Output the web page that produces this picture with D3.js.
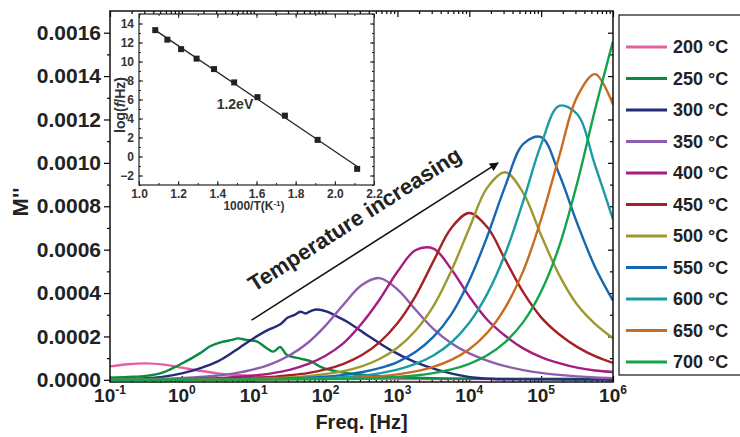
<!DOCTYPE html>
<html>
<head>
<meta charset="utf-8">
<script src="https://cdn.jsdelivr.net/npm/d3@7"></script>
<style>
  body { margin: 0; background: #fff; }
  svg { display: block; font-family: "Liberation Sans", Arial, sans-serif; font-weight: bold; }
</style>
</head>
<body>
<svg id="chart" width="740" height="437"></svg>
<script>
// log10 of frequency (Hz) shared by the smooth curves
const freqExp = [-1, -0.75, -0.5, -0.25, 0, 0.25, 0.5, 0.75, 1, 1.25, 1.5, 1.75, 2, 2.25, 2.5, 2.75,
  3, 3.25, 3.5, 3.75, 4, 4.25, 4.5, 4.75, 5, 5.25, 5.5, 5.75, 6];
// the two low temperature curves are noisy, so they are read on their own grids
const freqExp250 = [-1, -0.75, -0.5, -0.25, 0, 0.25, 0.4, 0.55, 0.7, 0.78, 0.9, 1.04, 1.18, 1.27, 1.37, 1.46,
  1.65, 1.8, 1.93, 2.17, 2.5, 2.75, 3, 3.5, 4, 5, 6];
const freqExp300 = [-1, -0.75, -0.5, -0.25, 0, 0.25, 0.5, 0.75, 1.0, 1.2, 1.37, 1.47, 1.56, 1.65, 1.72, 1.8,
  1.88, 2.02, 2.16, 2.3, 2.58, 2.9, 3.23, 3.56, 3.97, 4.34, 5, 6];

const temps = [200, 250, 300, 350, 400, 450, 500, 550, 600, 650, 700];
const colors = ["#e4609e", "#0b8a43", "#262b78", "#8e5db2", "#a51c82", "#a52126", "#9b9a30",
  "#1666b1", "#1b9ba2", "#c96b20", "#14a24c"];

// M'' values
const m200 = [6.2e-5, 7.2e-5, 7.6e-5, 7.0e-5, 5.6e-5, 4.2e-5, 3.0e-5, 2.2e-5, 1.7e-5, 1.2e-5, 9e-6, 7e-6, 6e-6, 5e-6, 5e-6,
  5e-6, 4e-6, 4e-6, 4e-6, 4e-6, 4e-6, 4e-6, 4e-6, 4e-6, 4e-6, 4e-6, 4e-6, 4e-6, 4e-6];
const m250 = [1.0e-5, 1.3e-5, 1.8e-5, 3.6e-5, 7.5e-5, 1.22e-4, 1.56e-4, 1.74e-4, 1.84e-4, 1.91e-4, 1.84e-4, 1.77e-4,
  1.46e-4, 1.30e-4, 1.51e-4, 1.15e-4, 9.8e-5, 8.5e-5, 6.0e-5, 3.8e-5, 2.4e-5, 1.7e-5, 1.2e-5, 7e-6, 5e-6, 4e-6, 3e-6];
const m300 = [1e-6, 2e-6, 7e-6, 1.5e-5, 3.0e-5, 5.3e-5, 8.5e-5, 1.36e-4, 1.92e-4, 2.30e-4, 2.56e-4, 2.86e-4, 2.98e-4,
  3.14e-4, 3.06e-4, 3.18e-4, 3.24e-4, 3.14e-4, 2.92e-4, 2.68e-4, 2.06e-4, 1.38e-4, 8.4e-5, 4.6e-5, 1.5e-5, 4e-6,
  2e-6, 1e-6];
const m350 = [2e-6, 2.5e-6, 4e-6, 5e-6, 8.5e-6, 1.3e-5, 2.0e-5, 3.1e-5, 4.8e-5, 7.4e-5, 1.13e-4, 1.70e-4, 2.50e-4,
  3.47e-4, 4.36e-4, 4.69e-4, 4.17e-4, 3.24e-4, 2.35e-4, 1.69e-4, 1.22e-4, 8.9e-5, 6.3e-5, 4.5e-5, 3.2e-5, 2.3e-5,
  1.6e-5, 1.1e-5, 8e-6];
const m400 = [1e-6, 1e-6, 1.5e-6, 2.5e-6, 3.7e-6, 5.5e-6, 8e-6, 1.3e-5, 2.0e-5, 3.0e-5, 4.6e-5, 7.2e-5, 1.11e-4,
  1.69e-4, 2.58e-4, 3.69e-4, 4.98e-4, 5.97e-4, 6.05e-4, 5.10e-4, 3.84e-4, 2.77e-4, 2.03e-4, 1.45e-4, 1.05e-4,
  7.7e-5, 5.6e-5, 4.3e-5, 3.6e-5];
const m450 = [5e-7, 7e-7, 1e-6, 1.3e-6, 1.5e-6, 2.5e-6, 3.8e-6, 5.8e-6, 8.5e-6, 1.3e-5, 2.1e-5, 3.1e-5, 4.8e-5,
  7.4e-5, 1.13e-4, 1.73e-4, 2.61e-4, 3.85e-4, 5.46e-4, 7.00e-4, 7.69e-4, 7.04e-4, 5.54e-4, 4.04e-4, 2.88e-4,
  2.10e-4, 1.52e-4, 1.09e-4, 7.8e-5];
const m500 = [5e-7, 7e-7, 1e-6, 1.2e-6, 1.5e-6, 2e-6, 2.8e-6, 3e-6, 5e-6, 7e-6, 1.1e-5, 1.7e-5, 2.7e-5, 4.0e-5,
  6.2e-5, 9.6e-5, 1.48e-4, 2.26e-4, 3.40e-4, 5.03e-4, 6.99e-4, 8.86e-4, 9.57e-4, 8.62e-4, 6.66e-4, 4.84e-4,
  3.47e-4, 2.58e-4, 1.92e-4];
const m550 = [5e-7, 6e-7, 8e-7, 1e-6, 1.2e-6, 1.5e-6, 2e-6, 2.5e-6, 3e-6, 4.5e-6, 6.5e-6, 1.0e-5, 1.5e-5, 2.3e-5,
  3.5e-5, 5.4e-5, 8.2e-5, 1.28e-4, 1.98e-4, 3.02e-4, 4.58e-4, 6.61e-4, 8.93e-4, 1.087e-3, 1.119e-3, 9.49e-4,
  7.23e-4, 5.20e-4, 3.65e-4];
const m600 = [5e-7, 6e-7, 7e-7, 8e-7, 1e-6, 1.2e-6, 1.5e-6, 2e-6, 2.5e-6, 3e-6, 4e-6, 6e-6, 8e-6, 1.2e-5, 1.9e-5,
  3.0e-5, 4.7e-5, 7.3e-5, 1.12e-4, 1.72e-4, 2.63e-4, 3.96e-4, 5.81e-4, 8.23e-4, 1.085e-3, 1.263e-3, 1.225e-3,
  9.89e-4, 7.40e-4];
const m650 = [5e-7, 5e-7, 6e-7, 7e-7, 8e-7, 1e-6, 1.2e-6, 1.5e-6, 2e-6, 2.5e-6, 3e-6, 4e-6, 6e-6, 7e-6, 1.1e-5,
  1.6e-5, 2.5e-5, 3.9e-5, 6.0e-5, 9.2e-5, 1.41e-4, 2.17e-4, 3.33e-4, 5.01e-4, 7.40e-4, 1.029e-3, 1.304e-3,
  1.409e-3, 1.269e-3];
const m700 = [5e-7, 5e-7, 5e-7, 6e-7, 7e-7, 8e-7, 1e-6, 1.2e-6, 1.5e-6, 2e-6, 2.5e-6, 3e-6, 3.5e-6, 4e-6, 5e-6,
  8e-6, 1.3e-5, 2.0e-5, 3.1e-5, 4.8e-5, 7.4e-5, 1.13e-4, 1.74e-4, 2.66e-4, 4.07e-4, 6.14e-4, 9.05e-4, 1.245e-3,
  1.560e-3];

const seriesExp = [freqExp, freqExp250, freqExp300, freqExp, freqExp, freqExp, freqExp, freqExp, freqExp, freqExp, freqExp];
const seriesValues = [m200, m250, m300, m350, m400, m450, m500, m550, m600, m650, m700];

const xTickExp = [-1, 0, 1, 2, 3, 4, 5, 6];
const yTicks = [0, 0.0002, 0.0004, 0.0006, 0.0008, 0.0010, 0.0012, 0.0014, 0.0016];

// inset: Arrhenius plot of the peak frequency
const insetInvT = [1.083, 1.145, 1.215, 1.294, 1.383, 1.486, 1.605, 1.745, 1.912, 2.114];
const insetLnF = [13.3, 12.3, 11.3, 10.3, 9.2, 7.8, 6.25, 4.3, 1.75, -1.3];
const insetXTicks = [1.0, 1.2, 1.4, 1.6, 1.8, 2.0, 2.2];
const insetYTicks = [-2, 0, 2, 4, 6, 8, 10, 12, 14];

const svg = d3.select("#chart");

const x = d3.scaleLog().domain([0.1, 1e6]).range([110, 613]);
const y = d3.scaleLinear().domain([-0.00001, 0.0017]).range([382, 11]);
const [x0, x1] = x.range();
const [y0, y1] = y.range();

const minorLog = [];
for (let e = -1; e < 6; e++) for (let k = 2; k <= 9; k++) minorLog.push(k * Math.pow(10, e));
const majorLog = xTickExp.map(e => Math.pow(10, e));
const minorY = d3.range(1, 17, 2).map(i => i * 0.0001);

function styleAxis(g) {
  g.select(".domain").remove();
  g.selectAll(".tick line").attr("stroke", "#000").attr("stroke-width", 1.2);
}

// left axis, outward ticks with labels
svg.append("g")
  .attr("transform", `translate(${x0},0)`)
  .call(d3.axisLeft(y).tickValues(yTicks).tickFormat(d3.format(".4f")).tickSize(6).tickPadding(3))
  .call(styleAxis)
  .selectAll("text")
  .style("font-size", "21px")
  .style("font-family", "Liberation Sans, Arial, sans-serif")
  .style("font-weight", "bold")
  .attr("fill", "#222");
svg.append("g")
  .attr("transform", `translate(${x0},0)`)
  .call(d3.axisLeft(y).tickValues(minorY).tickFormat("").tickSize(3))
  .call(styleAxis);

// right mirror ticks (inward)
svg.append("g")
  .attr("transform", `translate(${x1},0)`)
  .call(d3.axisLeft(y).tickValues(yTicks).tickFormat("").tickSize(5))
  .call(styleAxis);
svg.append("g")
  .attr("transform", `translate(${x1},0)`)
  .call(d3.axisLeft(y).tickValues(minorY).tickFormat("").tickSize(3))
  .call(styleAxis);

// bottom and top ticks (inward)
svg.append("g").attr("transform", `translate(0,${y0})`)
  .call(d3.axisTop(x).tickValues(majorLog).tickFormat("").tickSize(6)).call(styleAxis);
svg.append("g").attr("transform", `translate(0,${y0})`)
  .call(d3.axisTop(x).tickValues(minorLog).tickFormat("").tickSize(3)).call(styleAxis);
svg.append("g").attr("transform", `translate(0,${y1})`)
  .call(d3.axisBottom(x).tickValues(majorLog).tickFormat("").tickSize(6)).call(styleAxis);
svg.append("g").attr("transform", `translate(0,${y1})`)
  .call(d3.axisBottom(x).tickValues(minorLog).tickFormat("").tickSize(3)).call(styleAxis);

// x tick labels 10^n
const xLab = svg.append("g").selectAll("text")
  .data(xTickExp)
  .enter()
  .append("text")
  .attr("x", d => x(Math.pow(10, d)))
  .attr("y", 402)
  .attr("text-anchor", "middle")
  .attr("fill", "#222")
  .style("font-size", "19px");
xLab.append("tspan").text("10");
xLab.append("tspan").attr("dy", -8).style("font-size", "12px").text(d => d);

// axis titles
svg.append("text")
  .attr("x", (x0 + x1) / 2)
  .attr("y", 429)
  .attr("text-anchor", "middle")
  .attr("fill", "#222")
  .style("font-size", "20px")
  .text("Freq. [Hz]");

svg.append("text")
  .attr("transform", "translate(28,202) rotate(-90)")
  .attr("text-anchor", "middle")
  .attr("fill", "#222")
  .style("font-size", "22px")
  .text("M''");

// curves
svg.append("clipPath").attr("id", "plotClip")
  .append("rect").attr("x", x0).attr("y", y1).attr("width", x1 - x0).attr("height", y0 - y1);

const line = d3.line()
  .x(d => x(Math.pow(10, d[0])))
  .y(d => y(d[1]))
  .curve(d3.curveCatmullRom);

svg.append("g")
  .attr("clip-path", "url(#plotClip)")
  .selectAll(".curve")
  .data(seriesValues)
  .enter()
  .append("path")
  .attr("class", "curve")
  .attr("d", (d, i) => line(d.map((v, j) => [seriesExp[i][j], v])))
  .attr("fill", "none")
  .attr("stroke", (d, i) => colors[i])
  .attr("stroke-width", 2.4)
  .attr("stroke-linejoin", "round");

// frame
svg.append("rect")
  .attr("x", x0).attr("y", y1)
  .attr("width", x1 - x0).attr("height", y0 - y1)
  .attr("fill", "none").attr("stroke", "#111").attr("stroke-width", 1.5);

// arrow annotation
svg.append("defs").append("marker")
  .attr("id", "arrowHead")
  .attr("viewBox", "0 0 10 10")
  .attr("refX", 9).attr("refY", 5)
  .attr("markerWidth", 10).attr("markerHeight", 9)
  .attr("markerUnits", "userSpaceOnUse")
  .attr("orient", "auto")
  .append("path").attr("d", "M0,0 L10,5 L0,10 Z").attr("fill", "#111");

const ax1 = x(Math.pow(10, 0.97)), ay1 = y(0.000275);
const ax2 = x(Math.pow(10, 4.4)), ay2 = y(0.001);
svg.append("line")
  .attr("x1", ax1).attr("y1", ay1).attr("x2", ax2).attr("y2", ay2)
  .attr("stroke", "#111").attr("stroke-width", 1.6)
  .attr("marker-end", "url(#arrowHead)");

const ang = Math.atan2(ay2 - ay1, ax2 - ax1);
const ux = Math.cos(ang), uy = Math.sin(ang);
const tcx = (ax1 + ax2) / 2 - 5 * ux + 22 * uy;
const tcy = (ay1 + ay2) / 2 - 5 * uy - 22 * ux;
svg.append("text")
  .attr("transform", `translate(${tcx},${tcy}) rotate(${ang * 180 / Math.PI})`)
  .attr("text-anchor", "middle")
  .attr("fill", "#222")
  .style("font-size", "22px")
  .text("Temperature increasing");

// legend
const legY = d3.scalePoint().domain(temps).range([47, 362]);
svg.append("rect")
  .attr("x", 619).attr("y", 15).attr("width", 140).attr("height", 360)
  .attr("fill", "#fff").attr("stroke", "#111").attr("stroke-width", 1.2);
const leg = svg.append("g").selectAll("g")
  .data(temps)
  .enter()
  .append("g")
  .attr("transform", d => `translate(0,${legY(d)})`);
leg.append("line")
  .attr("x1", 626).attr("x2", 667)
  .attr("stroke", (d, i) => colors[i])
  .attr("stroke-width", 3);
leg.append("text")
  .attr("x", 673).attr("y", 6)
  .attr("fill", "#222")
  .style("font-size", "18px")
  .text(d => `${d} °C`);

// inset
const xi = d3.scaleLinear().domain([1.0, 2.2]).range([139, 374]);
const yi = d3.scaleLinear().domain([-3, 15]).range([185, 14]);
const inset = svg.append("g");
inset.append("rect")
  .attr("x", 139).attr("y", 14).attr("width", 235).attr("height", 171)
  .attr("fill", "#fff");

const insetMinorX = d3.range(10, 22).map(i => i / 10);
const insetMinorY = d3.range(-3, 16);

function insetAxis(g) {
  g.select(".domain").remove();
  g.selectAll(".tick line").attr("stroke", "#222").attr("stroke-width", 1);
  g.selectAll("text").style("font-size", "12px")
    .style("font-family", "Liberation Sans, Arial, sans-serif")
    .style("font-weight", "bold").attr("fill", "#333");
}

inset.append("g").attr("transform", "translate(0,185)")
  .call(d3.axisBottom(xi).tickValues(insetXTicks).tickFormat(d3.format(".1f")).tickSizeInner(-4).tickSizeOuter(0).tickPadding(4))
  .call(insetAxis);
inset.append("g").attr("transform", "translate(0,185)")
  .call(d3.axisTop(xi).tickValues(insetMinorX).tickFormat("").tickSize(2)).call(insetAxis);
inset.append("g").attr("transform", "translate(0,14)")
  .call(d3.axisBottom(xi).tickValues(insetMinorX).tickFormat("").tickSize(2)).call(insetAxis);
inset.append("g").attr("transform", "translate(0,14)")
  .call(d3.axisBottom(xi).tickValues(insetXTicks).tickFormat("").tickSize(4)).call(insetAxis);

inset.append("g").attr("transform", "translate(139,0)")
  .call(d3.axisLeft(yi).tickValues(insetYTicks).tickFormat(d3.format("d")).tickSizeInner(-4).tickSizeOuter(0).tickPadding(5))
  .call(insetAxis);
inset.append("g").attr("transform", "translate(139,0)")
  .call(d3.axisRight(yi).tickValues(insetMinorY).tickFormat("").tickSize(2)).call(insetAxis);
inset.append("g").attr("transform", "translate(374,0)")
  .call(d3.axisLeft(yi).tickValues(insetMinorY).tickFormat("").tickSize(2)).call(insetAxis);
inset.append("g").attr("transform", "translate(374,0)")
  .call(d3.axisLeft(yi).tickValues(insetYTicks).tickFormat("").tickSize(4)).call(insetAxis);

inset.append("rect")
  .attr("x", 139).attr("y", 14).attr("width", 235).attr("height", 171)
  .attr("fill", "none").attr("stroke", "#222").attr("stroke-width", 1.2);

// least squares fit of ln f vs 1000/T
const mx = d3.mean(insetInvT), my = d3.mean(insetLnF);
const slope = d3.sum(insetInvT, (v, i) => (v - mx) * (insetLnF[i] - my)) / d3.sum(insetInvT, v => (v - mx) * (v - mx));
const icpt = my - slope * mx;
const fitX = [d3.min(insetInvT) - 0.01, d3.max(insetInvT) + 0.01];
inset.append("line")
  .attr("x1", xi(fitX[0])).attr("y1", yi(icpt + slope * fitX[0]))
  .attr("x2", xi(fitX[1])).attr("y2", yi(icpt + slope * fitX[1]))
  .attr("stroke", "#222").attr("stroke-width", 1.3);

inset.selectAll(".pt")
  .data(insetInvT)
  .enter()
  .append("rect")
  .attr("class", "pt")
  .attr("x", d => xi(d) - 3)
  .attr("y", (d, i) => yi(insetLnF[i]) - 3)
  .attr("width", 6).attr("height", 6)
  .attr("fill", "#222");

inset.append("text")
  .attr("x", xi(1.49)).attr("y", yi(5.0))
  .attr("text-anchor", "middle")
  .attr("fill", "#333")
  .style("font-size", "14px")
  .text("1.2eV");

const ixl = inset.append("text")
  .attr("x", 254).attr("y", 210)
  .attr("text-anchor", "middle")
  .attr("fill", "#333")
  .style("font-size", "12px");
ixl.append("tspan").text("1000/T(K");
ixl.append("tspan").attr("dy", -4).style("font-size", "8px").text("-1");
ixl.append("tspan").attr("dy", 4).text(")");

const iyl = inset.append("text")
  .attr("transform", "translate(125,105) rotate(-90)")
  .attr("text-anchor", "middle")
  .attr("fill", "#333")
  .style("font-size", "14px");
iyl.append("tspan").text("log(");
iyl.append("tspan").style("font-style", "italic").text("f");
iyl.append("tspan").text("/Hz)");
</script>
</body>
</html>
